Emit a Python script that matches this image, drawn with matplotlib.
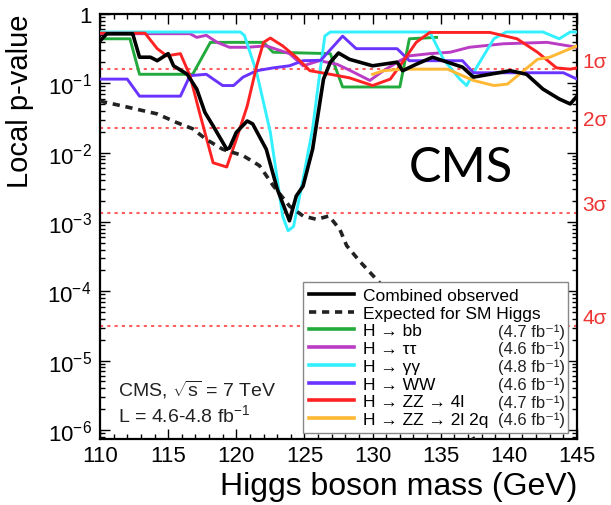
import math
import matplotlib
matplotlib.use("Agg")
import matplotlib.pyplot as plt
from matplotlib.ticker import FixedLocator, FuncFormatter, LogLocator, NullFormatter, MultipleLocator
from matplotlib.lines import Line2D

plt.rcParams['font.family'] = ['Liberation Sans', 'DejaVu Sans']
plt.rcParams['mathtext.fontset'] = 'custom'
plt.rcParams['mathtext.rm'] = 'Liberation Sans'
plt.rcParams['mathtext.it'] = 'Liberation Sans:italic'
plt.rcParams['mathtext.bf'] = 'Liberation Sans:bold'

# ---------------- data ----------------
obs_m = [110, 110.5, 112.4, 112.9, 113.7, 114.2, 115.0, 115.4, 116.4, 117.1, 117.7, 118.3,
         119.3, 119.5, 120.0, 120.8, 121.2, 122.2, 123.0, 123.9, 124.4, 124.9, 125.6, 126.4,
         126.9, 127.5, 128.3, 130.0, 131.8, 132.2, 133.2, 134.4, 136.6, 137.4, 138.6, 140.1,
         141.3, 142.5, 143.7, 144.5, 145]
obs_p = [0.409, 0.518, 0.518, 0.238, 0.238, 0.212, 0.268, 0.179, 0.135, 0.0826, 0.038, 0.0243,
         0.0112, 0.0117, 0.0196, 0.0286, 0.026, 0.0112, 0.003, 0.00104, 0.00237, 0.00329, 0.0112, 0.115,
         0.202, 0.274, 0.222, 0.179, 0.202, 0.152, 0.188, 0.238, 0.171, 0.123, 0.135, 0.152,
         0.135, 0.0826, 0.0594, 0.0504, 0.0653]

exp_m = [110, 111.7, 114.2, 115.6, 116.8, 117.8, 119.0, 120.5, 121.7, 122.7, 123.9, 124.9,
         125.9, 126.8, 127.6, 128.1, 129.1, 130.5, 132.0, 134.0, 136.0, 137.1, 138.0]
exp_p = [0.0553, 0.0469, 0.0362, 0.0273, 0.0221, 0.0155, 0.0112, 0.00904, 0.0065, 0.00336, 0.0017, 0.00122,
         0.00109, 0.00122, 7.8e-4, 4.55e-4, 2.65e-4, 1.34e-4, 5.4e-5, 1.07e-5, 2.2e-6, 9.3e-7, 5e-7]

bb_m = [110, 112.2, 112.9, 116.8, 118.1, 122.0, 122.7, 126.9, 127.8, 132.0, 132.7, 134.7]
bb_p = [0.439, 0.439, 0.135, 0.135, 0.39, 0.39, 0.281, 0.268, 0.0886, 0.0886, 0.439, 0.46]

tau_m = [110, 116.6, 117.1, 117.8, 118.6, 119.5, 120.8, 122.2, 123.9, 124.9, 126.1, 127.4,
         128.3, 129.8, 130.8, 132.0, 132.7, 134.2, 135.7, 137.1, 139.6, 142.8, 145]
tau_p = [0.52, 0.52, 0.46, 0.493, 0.39, 0.331, 0.331, 0.347, 0.268, 0.179, 0.212, 0.188,
         0.155, 0.11, 0.152, 0.212, 0.249, 0.268, 0.281, 0.331, 0.372, 0.39, 0.331]

gg_m = [110, 120.3, 120.6, 121.5, 122.5, 123.4, 123.8, 124.2, 124.9, 125.6, 126.1, 126.5,
        126.9, 134.2, 135.2, 136.4, 136.9, 137.7, 138.9, 139.8, 142.5, 143.7, 144.5, 145]
gg_p = [0.55, 0.55, 0.49, 0.142, 0.0196, 0.00122, 7.46e-4, 8.6e-4, 0.00416, 0.0221, 0.129, 0.482,
        0.55, 0.55, 0.222, 0.115, 0.0929, 0.179, 0.439, 0.55, 0.55, 0.439, 0.55, 0.55]

ww_m = [110, 112.0, 112.9, 115.9, 116.6, 117.8, 119.0, 119.8, 120.5, 121.5, 122.7, 123.9,
        124.9, 126.2, 127.8, 128.8, 131.8, 132.7, 136.6, 137.4, 144.0, 145]
ww_p = [0.115, 0.115, 0.0653, 0.0653, 0.129, 0.135, 0.0929, 0.0929, 0.123, 0.152, 0.167, 0.179,
        0.212, 0.215, 0.48, 0.316, 0.316, 0.212, 0.212, 0.142, 0.142, 0.115]

zz4l_m = [110, 113.3, 114.2, 114.9, 115.9, 116.6, 117.3, 118.3, 119.3, 120.0, 120.8, 121.5,
          122.0, 122.5, 123.4, 124.4, 125.4, 126.9, 128.3, 130.0, 131.3, 132.2, 133.2, 134.2,
          138.6, 140.6, 142.1, 143.5, 144.5, 145]
zz4l_p = [0.53, 0.53, 0.316, 0.249, 0.268, 0.129, 0.038, 0.00714, 0.00621, 0.0155, 0.0469, 0.179,
          0.39, 0.45, 0.347, 0.238, 0.152, 0.135, 0.12, 0.0929, 0.115, 0.202, 0.39, 0.542,
          0.542, 0.439, 0.281, 0.167, 0.16, 0.167]

zz2l_m = [130.0, 130.8, 132.2, 135.5, 137.4, 138.9, 139.9, 142.1, 143.0, 145]
zz2l_p = [0.135, 0.152, 0.16, 0.16, 0.11, 0.0929, 0.0975, 0.222, 0.238, 0.347]

sigma_labels = ["1σ", "2σ", "3σ", "4σ"]
sigma_p = [0.1587, 0.02275, 0.00135, 3.17e-5]

channel_labels = ["H → bb", "H → ττ", "H → γγ", "H → WW", "H → ZZ → 4l", "H → ZZ → 2l 2q"]
channel_lumi = ["4.7", "4.6", "4.8", "4.6", "4.7", "4.6"]
channel_colors = ["#22aa3c", "#bb3cc4", "#33f0ff", "#6a33ff", "#ff2222", "#ffb833"]

x_ticks = [110, 115, 120, 125, 130, 135, 140, 145]
y_ticks = [1e-6, 1e-5, 1e-4, 1e-3, 1e-2, 1e-1, 1]

# ---------------- figure ----------------
fig = plt.figure(figsize=(6.11, 5.06), dpi=100)
ax = fig.add_axes([100/611, 66/506, 477/611, 425/506])

ax.set_yscale('log')
ax.set_xlim(110, 145)
ax.set_ylim(7.4e-7, 1)

for p in sigma_p:
    ax.axhline(p, color='#ff5f5f', lw=1.5, dashes=(1.5, 2.0), zorder=1)

channels = [(bb_m, bb_p), (tau_m, tau_p), (gg_m, gg_p), (ww_m, ww_p), (zz4l_m, zz4l_p), (zz2l_m, zz2l_p)]
for (m, p), c in zip(channels, channel_colors):
    ax.plot(m, p, color=c, lw=2.1, zorder=3)

ax.plot(exp_m, exp_p, color='#222222', lw=2.6, dashes=(2.0, 1.6), zorder=4)
ax.plot(obs_m, obs_p, color='black', lw=2.6, zorder=4)

# ticks
ax.xaxis.set_major_locator(FixedLocator(x_ticks))
ax.xaxis.set_minor_locator(MultipleLocator(1))
ax.yaxis.set_major_locator(FixedLocator(y_ticks))
ax.yaxis.set_minor_locator(LogLocator(base=10, subs=range(2, 10), numticks=20))
ax.yaxis.set_minor_formatter(NullFormatter())


def yfmt(v, pos):
    k = int(round(math.log10(v)))
    if k == 0:
        return "1"
    return r"$10^{%d}$" % k


ax.yaxis.set_major_formatter(FuncFormatter(yfmt))
ax.tick_params(which='both', direction='in', top=True, right=True, labelsize=16, width=1.0)
ax.tick_params(which='major', length=7)
ax.tick_params(which='minor', length=3.5)
ax.tick_params(axis='x', pad=4)
ax.tick_params(axis='y', pad=6)
for s in ax.spines.values():
    s.set_linewidth(1.6)

ax.set_xlabel("Higgs boson mass (GeV)", fontsize=23, loc='right', labelpad=4)
ax.set_ylabel("Local p-value", fontsize=21, loc='top', labelpad=10)

# sigma labels
for lab, p in zip(sigma_labels, sigma_p):
    ax.annotate(lab, xy=(1.0, p), xycoords=('axes fraction', 'data'), xytext=(4, 6),
                textcoords='offset points', ha='left', va='center', color='#ee3333', fontsize=15,
                annotation_clip=False)

# big CMS
ax.text(0.757, 0.64, "CMS", transform=ax.transAxes, fontsize=35, family=['Lato', 'DejaVu Sans'],
        ha='center', va='center', color='black')

ax.text(0.038, 0.118, r"CMS, $\sqrt{\mathrm{s}}$ = 7 TeV", transform=ax.transAxes, fontsize=14,
        ha='left', va='center', color='#222222')
ax.text(0.038, 0.058, r"L = 4.6-4.8 fb$^{-1}$", transform=ax.transAxes, fontsize=14,
        ha='left', va='center', color='#222222')

# legend
handles = [Line2D([], [], color='black', lw=2.6),
           Line2D([], [], color='#222222', lw=2.6, dashes=(2.0, 1.6))]
handles += [Line2D([], [], color=c, lw=2.6) for c in channel_colors]
labels = ["Combined observed", "Expected for SM Higgs"] + channel_labels
leg = ax.legend(handles, labels, loc='upper left', bbox_to_anchor=(0.4256, 0.369, 0.556, 0.0),
                mode='expand', borderaxespad=0, fontsize=12.5, labelspacing=0.15, handlelength=2.6,
                handletextpad=0.55, borderpad=0.32, fancybox=False, framealpha=1, edgecolor='#888888',
                facecolor='white')
leg.get_frame().set_linewidth(1.0)
leg.set_zorder(6)

fig.canvas.draw()
renderer = fig.canvas.get_renderer()
fr = leg.get_frame().get_window_extent(renderer)
inv = fig.transFigure.inverted()
for t, lumi in zip(leg.get_texts()[2:], channel_lumi):
    bb = t.get_window_extent(renderer)
    yc = (bb.y0 + bb.y1) / 2
    xf, yf = inv.transform((fr.x1 - 3, yc))
    fig.text(xf, yf, "(%s fb⁻¹)" % lumi, ha='right', va='center', fontsize=12, zorder=10,
             color='#222222')

fig.savefig("out.png", dpi=100)
